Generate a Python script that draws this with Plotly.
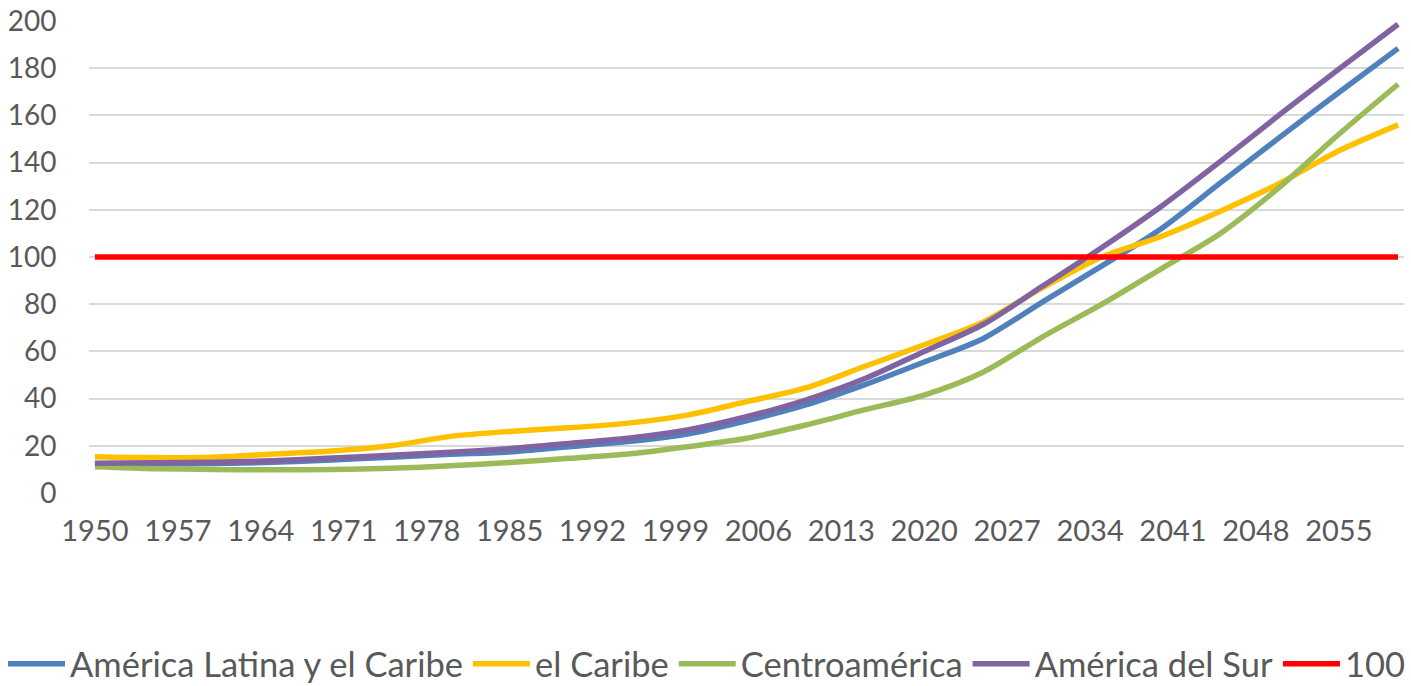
import plotly.graph_objects as go

years = [1950, 1955, 1960, 1965, 1970, 1975, 1980, 1985, 1990, 1995, 2000, 2005,
         2010, 2015, 2020, 2025, 2030, 2035, 2040, 2045, 2050, 2055, 2060]

america_latina_caribe = [12.2, 12.3, 12.5, 13.0, 14.0, 15.2, 16.4, 17.4, 19.6, 21.8, 25.0, 30.6,
                         37.3, 45.9, 55.5, 65.5, 81.0, 96.2, 112.0, 131.4, 150.7, 169.7, 188.4]
el_caribe = [15.4, 15.0, 15.2, 16.5, 17.8, 20.0, 24.0, 26.1, 27.6, 29.6, 33.0, 38.7,
             44.5, 53.7, 62.8, 72.5, 87.0, 100.0, 108.7, 119.4, 131.2, 145.0, 156.0]
centroamerica = [11.1, 10.3, 10.0, 9.8, 10.0, 10.5, 11.5, 12.9, 14.7, 16.5, 19.6, 23.2,
                 28.8, 35.3, 41.5, 51.3, 66.2, 80.0, 95.0, 110.0, 129.6, 152.0, 173.2]
america_del_sur = [12.6, 12.8, 13.0, 13.7, 14.8, 16.0, 17.3, 18.8, 21.0, 23.2, 26.7, 32.3,
                   39.4, 48.5, 60.0, 71.5, 87.7, 104.0, 121.4, 140.5, 160.3, 179.6, 198.6]
referencia_100 = [100, 100, 100, 100, 100, 100, 100, 100, 100, 100, 100, 100,
                  100, 100, 100, 100, 100, 100, 100, 100, 100, 100, 100]

x_tick_years = [1950, 1957, 1964, 1971, 1978, 1985, 1992, 1999, 2006, 2013, 2020, 2027,
                2034, 2041, 2048, 2055]
y_tick_values = [0, 20, 40, 60, 80, 100, 120, 140, 160, 180, 200]

series = [
    ("América Latina y el Caribe", america_latina_caribe, "#4F81BD", "spline"),
    ("el Caribe", el_caribe, "#FFC000", "spline"),
    ("Centroamérica", centroamerica, "#9BBB59", "spline"),
    ("América del Sur", america_del_sur, "#8064A2", "spline"),
    ("100", referencia_100, "#FF0000", "linear"),
]

FONT = "Lato, 'Open Sans', sans-serif"
fig = go.Figure()
for name, vals, color, shape in series:
    fig.add_trace(go.Scatter(
        x=years, y=vals, name=name, mode="lines",
        line=dict(color=color, width=5.5, shape=shape, smoothing=0.8),
    ))

fig.update_layout(
    width=1411, height=686,
    margin=dict(l=89, r=7, t=21, b=193, autoexpand=False),
    paper_bgcolor="white", plot_bgcolor="white",
    font=dict(family=FONT, color="#595959", size=28),
    showlegend=True,
    legend=dict(orientation="h", x=-0.0654, xanchor="left", y=-0.362, yanchor="middle",
                font=dict(size=34.5, color="#595959"), itemwidth=57,
                traceorder="normal", tracegroupgap=0),
    xaxis=dict(range=[1949.5, 2060.5], tickmode="array", tickvals=x_tick_years,
               ticktext=[str(v) for v in x_tick_years], showgrid=False, zeroline=False,
               showline=False, ticks="outside", ticklen=12, tickcolor="rgba(0,0,0,0)",
               tickfont=dict(size=29, color="#595959"), automargin=False),
    yaxis=dict(range=[0, 200], tickmode="array", tickvals=y_tick_values,
               showgrid=True, gridcolor="#D9D9D9", gridwidth=1.5, zeroline=False,
               showline=False, ticks="outside", ticklen=26, tickcolor="rgba(0,0,0,0)",
               tickfont=dict(size=28, color="#595959"), automargin=False),
)

# remove the default 8px body margin so the figure fills the window exactly
fig.write_html("out.html", config={"displayModeBar": False},
               post_script="document.body.style.margin='0px';")
